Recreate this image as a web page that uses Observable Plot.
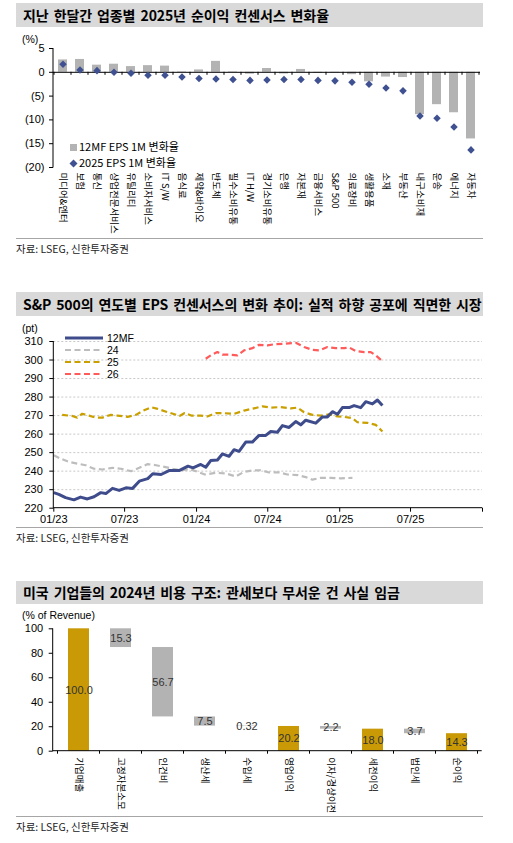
<!DOCTYPE html>
<html><head><meta charset="utf-8">
<script src="https://cdn.jsdelivr.net/npm/d3@7"></script>
<script src="https://cdn.jsdelivr.net/npm/@observablehq/plot@0.6"></script>
<style>
html,body{margin:0;padding:0;background:#fff}
body{width:513px;height:843px;position:relative;overflow:hidden;font-family:"Noto Sans CJK KR","Noto Sans",sans-serif;color:#000}
.title{position:absolute;left:16px;width:467px;height:24px;background:#D9D9D9;font-weight:bold;font-size:14px;line-height:24px;padding-left:7px;box-sizing:border-box;white-space:nowrap;letter-spacing:-0.1px;word-spacing:2px}
.src{position:absolute;left:16px;width:467px;border-top:1px solid #A6A6A6;font-size:10.5px;color:#222;padding-top:2px;line-height:16px}
.lbl{position:absolute;font-family:"Liberation Sans",Arial,sans-serif;font-size:10.5px;line-height:12px;white-space:nowrap}
.chart{position:absolute;left:0}
.leg{position:absolute;font-size:11px;line-height:14px;white-space:nowrap}
</style></head>
<body>
<div class="title" style="top:3px">지난 한달간 업종별 2025년 순이익 컨센서스 변화율</div>
<div class="lbl" style="left:22px;top:33px">(%)</div>
<div id="c1" class="chart" style="top:30px"></div>
<div class="leg" style="left:70px;top:139px"><span style="display:inline-block;width:7px;height:7px;background:#B3B3B3;margin-right:2px;vertical-align:0px"></span>12MF EPS 1M 변화율</div>
<div class="leg" style="left:69px;top:155px"><svg width="9" height="9" style="vertical-align:-1px;margin-right:1px"><path d="M4.5 0.5L8.5 4.5L4.5 8.5L0.5 4.5Z" fill="#3F5191"/></svg>2025 EPS 1M 변화율</div>
<div class="src" style="top:238px">자료: LSEG, 신한투자증권</div>

<div class="title" style="top:292px">S&amp;P 500의 연도별 EPS 컨센서스의 변화 추이: 실적 하향 공포에 직면한 시장</div>
<div class="lbl" style="left:22px;top:322px">(pt)</div>
<div id="c2" class="chart" style="top:325px"></div>
<svg id="leg2" style="position:absolute;left:60px;top:328px;overflow:visible" width="110" height="56"></svg>
<div class="src" style="top:527px">자료: LSEG, 신한투자증권</div>

<div class="title" style="top:581px;height:23px;line-height:23px">미국 기업들의 2024년 비용 구조: 관세보다 무서운 건 사실 임금</div>
<div class="lbl" style="left:22px;top:608.5px">(% of Revenue)</div>
<div id="c3" class="chart" style="top:612px"></div>
<div class="src" style="top:816px">자료: LSEG, 신한투자증권</div>

<script>
// ---------------- Chart 1 data ----------------
const sectors = ["미디어&엔터","보험","통신","상업전문서비스","유틸리티","소비자서비스","IT S/W","음식료","제약&바이오","반도체","필수소비유통","IT H/W","경기소비유통","은행","자본재","금융서비스","S&P 500","의료장비","생활용품","소재","부동산","내구소비재","운송","에너지","자동차"];
const eps12mf = [2.6,2.7,1.5,1.7,1.2,1.4,1.3,0.1,0.5,2.3,0.1,-0.4,0.8,-0.35,0.6,-0.2,-0.1,-0.5,-2.0,-1.0,-1.1,-8.9,-6.8,-8.5,-14.0];
const eps2025 = [1.7,0.5,0.35,0.0,-0.2,-0.6,-0.6,-1.0,-1.3,-1.4,-1.5,-1.7,-1.6,-1.5,-1.5,-1.7,-1.8,-2.1,-2.5,-3.3,-3.9,-9.2,-9.65,-11.5,-16.3];
const c1Ticks = [5,0,-5,-10,-15,-20];

// ---------------- Chart 2 data: [months since 01/2023, pt] ----------------
const s12mf = [[0,228.4],[0.42,227.5],[0.99,225.7],[1.69,224.5],[2.25,226],[2.82,225],[3.38,226.2],[3.94,228.4],[4.37,227.9],[4.93,230.7],[5.49,229.6],[6.06,231],[6.62,230.7],[7.18,234.6],[7.89,236],[8.31,238.6],[9.01,238.2],[9.72,240.4],[10.56,240.4],[11.27,242.7],[11.69,241.8],[12.34,243.6],[12.76,242.1],[13.18,245.7],[13.74,246],[14.16,249.3],[14.72,248],[15.14,251.6],[15.56,250.7],[16.12,255.7],[16.68,255.7],[17.24,259.3],[17.8,259.3],[18.22,261.4],[18.78,261],[19.2,264.6],[19.76,263.6],[20.32,266.8],[20.74,265],[21.16,267.5],[22.0,265.9],[22.56,269.3],[22.98,269.3],[23.4,272.1],[23.82,270.7],[24.24,274.3],[24.8,274.3],[25.22,275.4],[25.78,274.3],[26.2,277.5],[26.76,276.3],[27.18,278.4],[27.6,275.4]];
const s24 = [[0,248.6],[0.56,246.8],[1.27,245],[1.97,244.1],[2.68,243.2],[3.38,241.3],[4.08,240.9],[4.93,241.8],[5.63,241.3],[6.48,240],[7.18,241.8],[7.89,243.8],[8.59,243.2],[9.3,242.3],[10.0,241.3],[10.7,240.5],[11.41,241.1],[12.11,239.6],[12.68,238.2],[13.6,239.1],[14.44,238.8],[15.28,237.1],[15.98,239.6],[16.68,240.4],[17.38,240.5],[18.08,239.3],[18.92,239.3],[19.62,238.2],[20.46,237.9],[21.16,236.8],[21.72,235.4],[22.42,236.4],[23.26,236.4],[24.1,236.1],[25.08,236.4]];
const s25 = [[0.7,270.4],[1.55,269.8],[1.97,268.9],[2.39,271],[2.96,270],[3.52,268.9],[4.08,268.9],[4.79,270.4],[5.35,270],[6.2,269.3],[6.9,270.4],[7.46,272.5],[8.17,274.5],[8.73,273.6],[9.44,272.1],[10.14,270.7],[10.56,269.8],[10.99,271.4],[11.55,270],[12.34,270],[12.9,269.5],[13.6,271.3],[14.3,271.3],[15.14,270.9],[15.98,272.7],[16.82,273.9],[17.52,275],[18.22,274.3],[19.06,274.6],[19.9,273.9],[20.46,274.3],[21.02,271.8],[21.72,270.4],[22.42,270],[23.12,270.7],[23.82,269.6],[24.38,269.3],[25.08,268.6],[25.5,266.4],[26.34,266.1],[27.04,265],[27.6,261.4]];
const s26 = [[12.76,300.7],[13.18,302.5],[13.74,304.3],[14.16,302.9],[14.72,302.9],[15.42,302.5],[15.98,305.2],[16.68,306.4],[17.24,308.2],[17.94,307.9],[18.64,308.6],[19.48,308.8],[20.32,309.3],[21.02,307],[21.72,305.5],[22.28,305.2],[22.98,307],[23.68,306.4],[24.38,306.4],[24.8,306.8],[25.36,304.8],[26.06,304.3],[26.62,304.3],[27.04,302.5],[27.6,299.3]];
const c2Series = ["12MF","24","25","26"];
const c2YTicks = [220,230,240,250,260,270,280,290,300,310];
const c2XTicks = ["2023-01-01","2023-07-01","2024-01-01","2024-07-01","2025-01-01","2025-07-01","2026-01-01"];

// ---------------- Chart 3 data ----------------
const costCats = ["기업매출","고정자본소모","인건비","생산세","수입세","영업이익","이자/경상이전","세전이익","법인세","순이익"];
const costVals = [100,15.3,56.7,7.5,0.32,20.2,2.2,18.0,3.7,14.3];
const costKinds = ["total","cost","cost","cost","cost","total","cost","total","cost","total"];
const c3YTicks = [0,20,40,60,80,100];

// ---------------- helpers ----------------
const W = 513;
const FONT = '"Noto Sans CJK KR","Noto Sans",sans-serif';
const NUMFONT = '"Liberation Sans",Arial,sans-serif';
const baseStyle = {fontFamily: FONT, fontSize: "11px", color: "#000", background: "transparent", overflow: "visible"};
const GOLD = "#C99A06", GRAY = "#B3B3B3", NAVY = "#3F5191";

function axisLines({left = true, bottom = true, bandTicksAt = null, tickLen = 3} = {}) {
  return (index, scales, values, dims) => {
    const {width, height, marginLeft, marginRight, marginTop, marginBottom} = dims;
    const g = d3.create("svg:g").attr("stroke", "#000").attr("stroke-width", 1).attr("fill", "none");
    const x0 = marginLeft, x1 = width - marginRight, y0 = marginTop, y1 = height - marginBottom;
    if (left) g.append("line").attr("x1", x0).attr("x2", x0).attr("y1", y0).attr("y2", y1 + 0.5);
    if (bottom) g.append("line").attr("x1", x0).attr("x2", x1).attr("y1", y1).attr("y2", y1);
    if (bandTicksAt != null) {
      const x = scales.x;
      const yy = bandTicksAt === "bottom" ? y1 : scales.y(bandTicksAt);
      const dom = x.domain();
      const step = typeof x.step === "function" ? x.step() : (x1 - x0) / dom.length;
      const bw = typeof x.bandwidth === "function" ? x.bandwidth() : 0;
      const edges = dom.map(d => x(d) + bw / 2 - step / 2);
      edges.push(edges[edges.length - 1] + step);
      for (const e of edges) g.append("line").attr("x1", e).attr("x2", e).attr("y1", yy).attr("y2", yy + tickLen);
    }
    return g.node();
  };
}

// ---------------- Chart 1 ----------------
const c1 = sectors.map((s, i) => ({s, a: eps12mf[i], b: eps2025[i]}));
const plot1 = Plot.plot({
  width: W, height: 210, marginLeft: 53, marginRight: 33, marginTop: 18, marginBottom: 73,
  style: baseStyle,
  x: {domain: sectors, paddingInner: 0.5, paddingOuter: 0.25, align: 0.5, axis: null},
  y: {domain: [-20, 5], axis: null},
  marks: [
    Plot.barY(c1, {x: "s", y: "a", fill: GRAY}),
    Plot.ruleY([0], {stroke: "#000"}),
    axisLines({left: true, bottom: false, bandTicksAt: 0, tickLen: 3}),
    Plot.dot(c1, {x: "s", y: "b", symbol: "diamond2", r: 3.4, fill: NAVY, stroke: null}),
    Plot.axisY({ticks: c1Ticks, tickFormat: d => d < 0 ? `(${-d})` : `${d}`, tickSize: 4, tickPadding: 5, label: null, fontSize: 11, fontFamily: NUMFONT}),
    Plot.axisX({anchor: "bottom", tickSize: 0, tickPadding: 5, tickRotate: 90, textAnchor: "start", label: null, fontSize: 9.5})
  ]
});
document.getElementById("c1").append(plot1);

// ---------------- Chart 2 ----------------
const base = Date.UTC(2023, 0, 1);
const toDate = m => new Date(base + m * 30.44 * 864e5);
const seriesPts = {"12MF": s12mf, "24": s24, "25": s25, "26": s26};
const seriesStyle = {
  "12MF": {stroke: "#3E4C8C", strokeWidth: 3, dash: null},
  "24": {stroke: "#BDBDBD", strokeWidth: 2.2, dash: "6,3.5"},
  "25": {stroke: "#C9A000", strokeWidth: 2.2, dash: "6,3.5"},
  "26": {stroke: "#FF5B5B", strokeWidth: 2.2, dash: "6,3.5"}
};
const c2 = c2Series.flatMap(k => seriesPts[k].map(([m, v]) => ({k, date: toDate(m), v})));
const drawOrder = ["24", "25", "26", "12MF"];
const xTickDates = c2XTicks.map(s => new Date(s + "T00:00:00Z"));
const fmtMY = d3.utcFormat("%m/%y");
const plot2 = Plot.plot({
  width: W, height: 210, marginLeft: 53.3, marginRight: 31, marginTop: 16, marginBottom: 27.3,
  style: baseStyle,
  x: {type: "utc", domain: [xTickDates[0], xTickDates[xTickDates.length - 1]], axis: null},
  y: {domain: [220, 310], axis: null},
  marks: [
    Plot.gridY({ticks: c2YTicks.slice(1), stroke: "#C8C8C8", strokeOpacity: 1, strokeDasharray: "2,2"}),
    ...drawOrder.map(k => Plot.line(c2.filter(d => d.k === k), {
      x: "date", y: "v", stroke: seriesStyle[k].stroke, strokeWidth: seriesStyle[k].strokeWidth,
      strokeDasharray: seriesStyle[k].dash, strokeLinejoin: "round", strokeLinecap: "butt"
    })),
    axisLines({left: true, bottom: true}),
    Plot.axisY({ticks: c2YTicks, tickSize: 4, tickPadding: 7, label: null, fontSize: 11, fontFamily: NUMFONT}),
    Plot.axisX({ticks: xTickDates, tickFormat: (d, i) => i === xTickDates.length - 1 ? "" : fmtMY(d), tickSize: 4, tickPadding: 3, label: null, fontSize: 11, fontFamily: NUMFONT})
  ]
});
document.getElementById("c2").append(plot2);

// legend for chart 2
const leg2 = d3.select("#leg2");
c2Series.forEach((k, i) => {
  const yy = [10, 22, 34, 46][i];
  const st = seriesStyle[k];
  leg2.append("line").attr("x1", 5).attr("x2", 43).attr("y1", yy).attr("y2", yy)
    .attr("stroke", st.stroke).attr("stroke-width", st.strokeWidth).attr("stroke-dasharray", st.dash);
  leg2.append("text").attr("x", 47).attr("y", yy).attr("dy", "0.35em").attr("font-size", 10.5)
    .attr("font-family", NUMFONT).attr("fill", "#000").text(k);
});

// ---------------- Chart 3 ----------------
let level = 0;
const c3 = costCats.map((c, i) => {
  const v = costVals[i];
  let y1, y2;
  if (costKinds[i] === "total") { y1 = 0; y2 = v; level = v; }
  else { y1 = level - v; y2 = level; level = level - v; }
  return {c, v, y1, y2, total: costKinds[i] === "total"};
});
const plot3 = Plot.plot({
  width: W, height: 205, marginLeft: 52.7, marginRight: 31.3, marginTop: 16.3, marginBottom: 66.3,
  style: baseStyle,
  x: {domain: costCats, paddingInner: 0.5, paddingOuter: 0.25, align: 0.5, axis: null},
  y: {domain: [0, 100], axis: null},
  marks: [
    Plot.barY(c3.filter(d => d.total), {x: "c", y1: "y1", y2: "y2", fill: GOLD}),
    Plot.barY(c3.filter(d => !d.total), {x: "c", y1: "y1", y2: "y2", fill: GRAY}),
    Plot.text(c3, {x: "c", y: d => (d.y1 + d.y2) / 2, text: d => d.v < 1 ? d.v.toFixed(2) : d.v.toFixed(1), fill: "#333", fontSize: 11, fontFamily: NUMFONT}),
    axisLines({left: true, bottom: true, bandTicksAt: "bottom", tickLen: 3}),
    Plot.axisY({ticks: c3YTicks, tickSize: 4, tickPadding: 6, label: null, fontSize: 11, fontFamily: NUMFONT}),
    Plot.axisX({anchor: "bottom", tickSize: 0, tickPadding: 6, tickRotate: 90, textAnchor: "start", label: null, fontSize: 9.5})
  ]
});
document.getElementById("c3").append(plot3);
</script>
</body></html>
